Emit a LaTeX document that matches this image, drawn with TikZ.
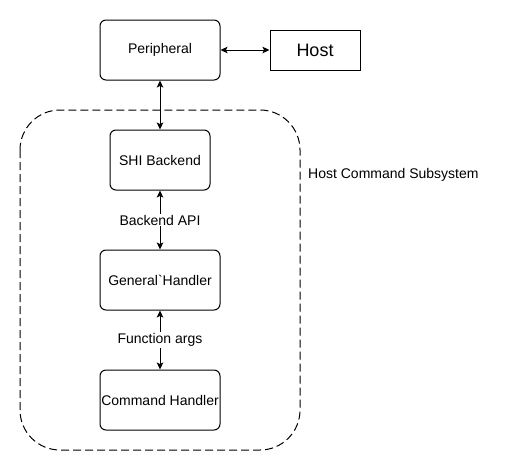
\documentclass[tikz,border=0pt]{standalone}
\usepackage{fontspec}
\newfontfamily\dio{Liberation Sans}
\usetikzlibrary{arrows.meta}
\begin{document}
\begin{tikzpicture}[x=1pt,y=-1pt,
  box/.style={draw,line width=1pt,rounded corners=6pt,minimum width=120pt,minimum height=60pt,inner sep=0pt,font=\dio\fontsize{14pt}{16pt}\selectfont},
  lbl/.style={fill=white,inner sep=1pt,font=\dio\fontsize{14pt}{16pt}\selectfont},
  conn/.style={line width=1pt,{Stealth[length=7pt,width=6.5pt,inset=1.5pt]}-{Stealth[length=7pt,width=6.5pt,inset=1.5pt]}}]
\useasboundingbox (0,0) rectangle (521,471);
\fill[white] (0,0) rectangle (521,471);
\draw[line width=1pt,dash pattern=on 8pt off 4pt,rounded corners=40pt] (20,110) rectangle (300,450);
\node[box] (per) at (160,50) {Peripheral};
\node[draw,line width=1pt,minimum width=90pt,minimum height=40pt,inner sep=0pt,font=\dio\fontsize{18pt}{20pt}\selectfont] (host) at (315,50) {Host};
\node[box,minimum width=100pt] (shi) at (160,160) {SHI Backend};
\node[box] (gen) at (160,280) {General`Handler};
\node[box] (cmd) at (160,400) {Command Handler};
\node[anchor=west,inner sep=0pt,font=\dio\fontsize{14pt}{16pt}\selectfont] (hcs) at (308,175) {Host Command Subsystem};
\draw[conn] (per) -- (host);
\draw[conn] (per) -- (shi);
\draw[conn] (shi) -- node[lbl] (bapi) {Backend API} (gen);
\draw[conn] (gen) -- node[lbl] (fargs) {Function args} (cmd);
\end{tikzpicture}
\end{document}
